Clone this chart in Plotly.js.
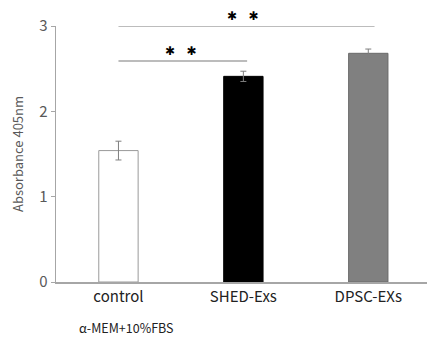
<!DOCTYPE html>
<html><head><meta charset="utf-8">
<script src="https://cdn.plot.ly/plotly-3.0.1.min.js"></script>
<style>html,body{margin:0;padding:0;background:#fff;}</style>
</head><body>
<div id="chart" style="width:427px;height:337px;"></div>
<script>
const categories = ["control", "SHED-Exs", "DPSC-EXs"];
const values = [1.54, 2.41, 2.68];
const errors = [0.11, 0.06, 0.05];
const barColors = ["#ffffff", "#000000", "#808080"];
const barLines = ["#9a9a9a", "#000000", "#6a6a6a"];
// significance comparisons: [from index, to index, height, label]
const sigFrom = [0, 0];
const sigTo = [1, 2];
const sigHeight = [2.59, 3.0];
const sigLabel = ["✱   ✱", "✱   ✱"];
const sigLineEndPad = [0.03, 0.05];

const shapes = [];
const annotations = [];
for (let i = 0; i < sigFrom.length; i++) {
  shapes.push({type:"line", xref:"x", yref:"y", x0:sigFrom[i], x1:sigTo[i]+sigLineEndPad[i],
    y0:sigHeight[i], y1:sigHeight[i], line:{color:"#a6a6a6", width:1.5}});
  annotations.push({xref:"x", yref:"y", x:(sigFrom[i]+sigTo[i])/2, y:sigHeight[i], yshift:10,
    text:sigLabel[i], showarrow:false, yanchor:"middle", xanchor:"center",
    font:{family:"DejaVu Sans", size:12, color:"#000"}});
}
annotations.push({xref:"paper", yref:"paper", x:0.057, y:-0.178, yanchor:"middle", xanchor:"left",
  text:"α-MEM+10%FBS", showarrow:false,
  font:{family:"Noto Sans CJK JP, Noto Sans", size:12.5, color:"#222"}});

const trace = {
  type:"bar", x:categories, y:values, width:0.315,
  marker:{color:barColors, line:{color:barLines, width:1}},
  error_y:{type:"data", array:errors, visible:true, color:"#7f7f7f", thickness:1, width:3},
  hoverinfo:"none"
};

const layout = {
  width:427, height:337,
  margin:{l:56, r:0, t:26, b:55},
  paper_bgcolor:"#fff", plot_bgcolor:"#fff",
  showlegend:false,
  xaxis:{range:[-0.5, 2.47], showline:true, linecolor:"#a6a6a6", linewidth:1.5,
    ticks:"", showgrid:false, zeroline:false,
    tickfont:{family:"Noto Sans CJK JP, Noto Sans", size:15, color:"#222"}},
  yaxis:{range:[0, 3], tickvals:[0,1,2,3], showline:true, linecolor:"#a6a6a6", linewidth:1.5,
    ticks:"outside", ticklen:4, tickcolor:"#a6a6a6", showgrid:false, zeroline:false,
    tickfont:{family:"Noto Sans CJK JP, Noto Sans", size:15, color:"#595959"},
    title:{text:"Absorbance 405nm", standoff:12,
      font:{family:"Noto Sans CJK JP, Noto Sans", size:13, color:"#595959"}}},
  shapes:shapes, annotations:annotations
};
Plotly.newPlot("chart", [trace], layout, {displayModeBar:false, staticPlot:true});
</script>
</body></html>
